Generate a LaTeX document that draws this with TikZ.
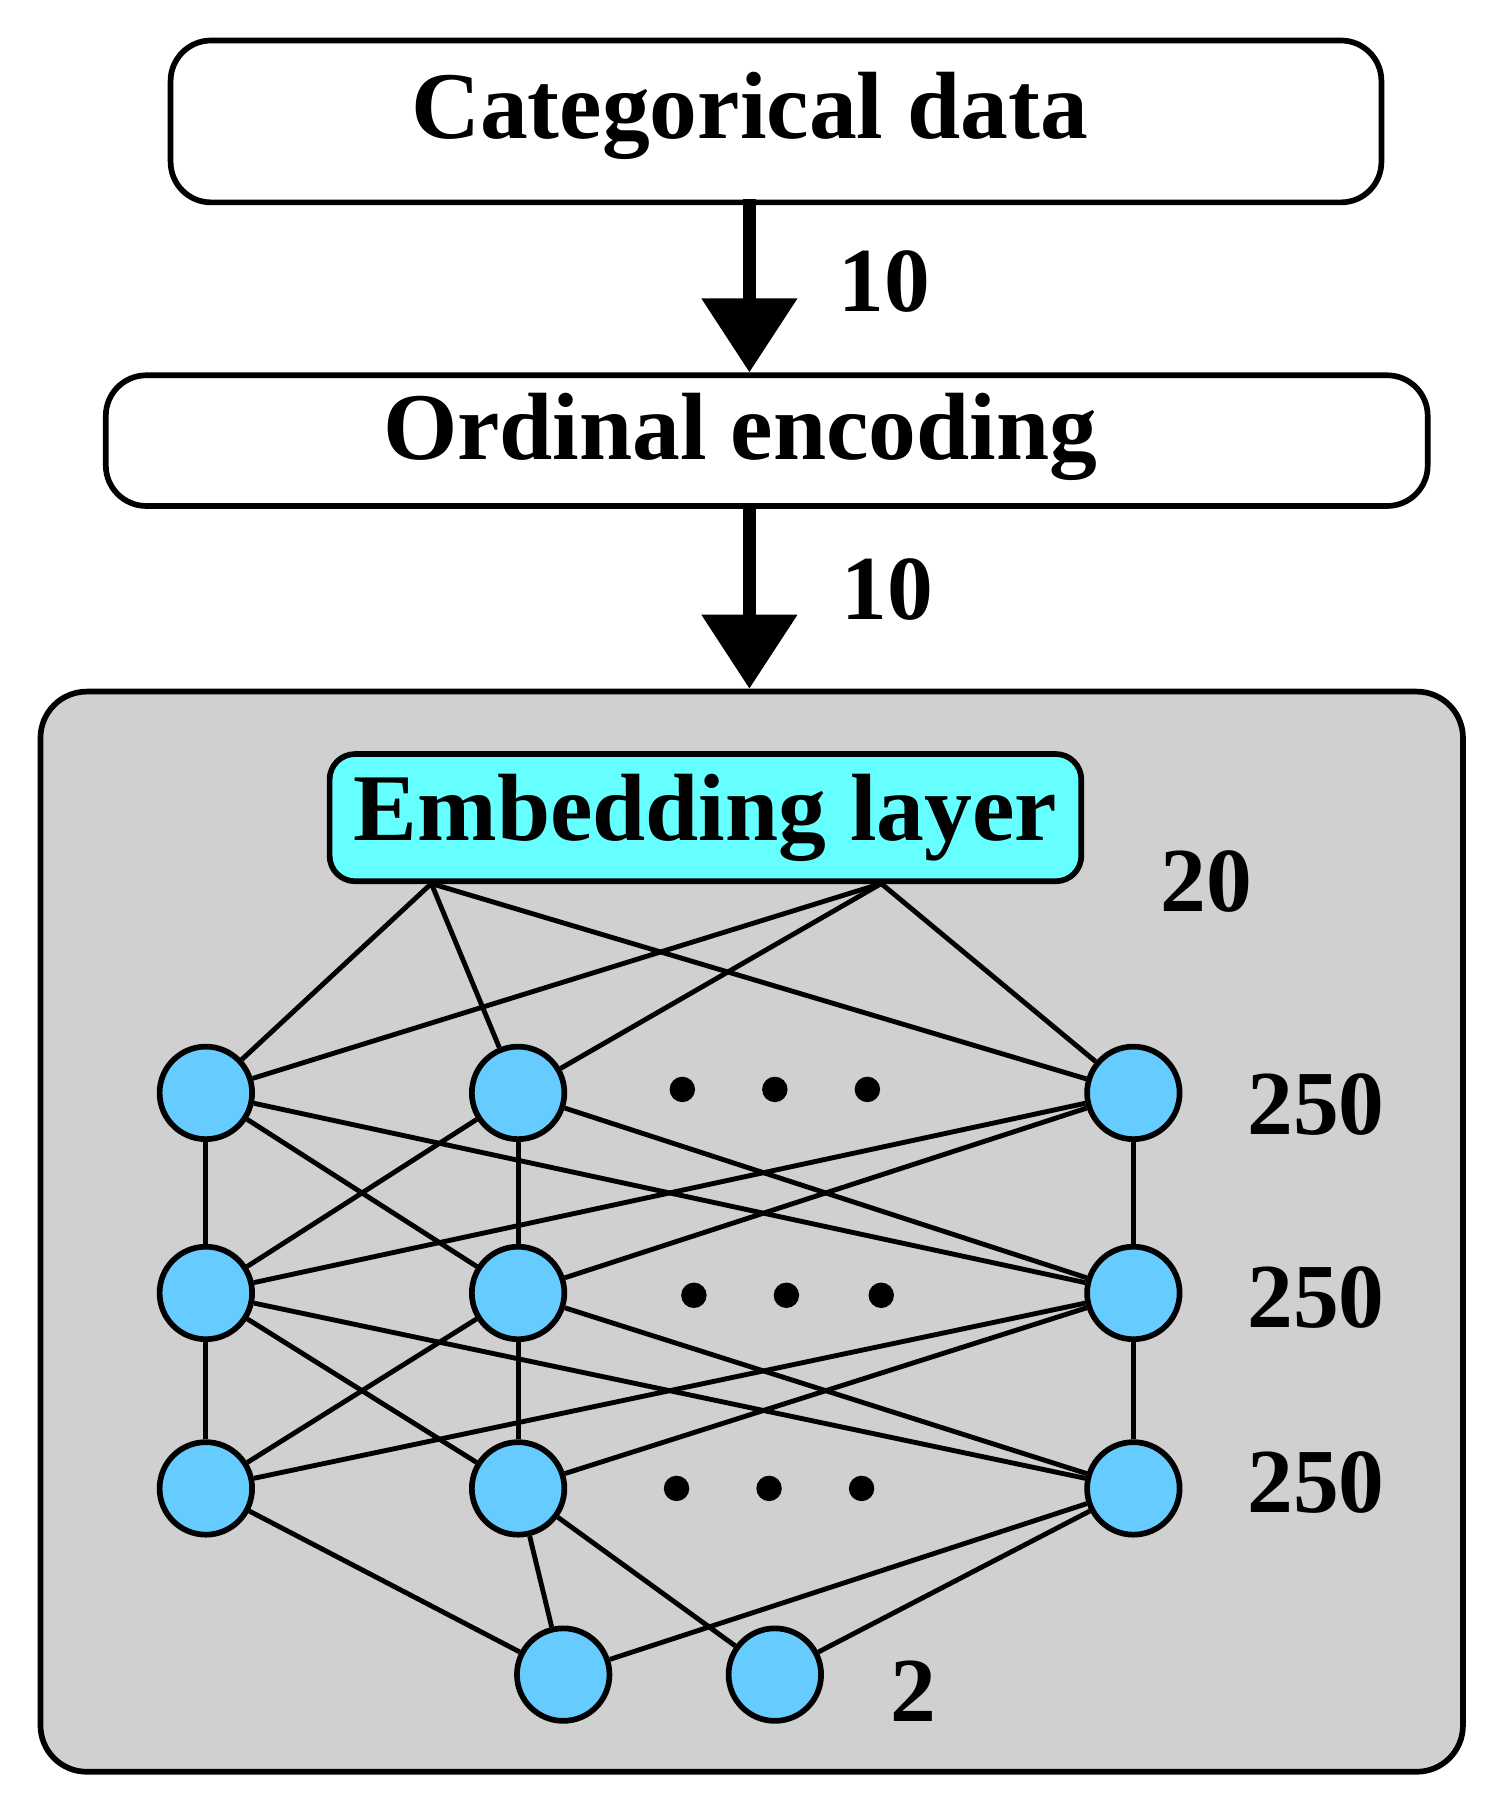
\documentclass[tikz,border=0pt]{standalone}
\usepackage{fontspec}
\setmainfont{Liberation Serif}
\usetikzlibrary{arrows.meta}
\begin{document}
\begin{tikzpicture}[x=0.01cm,y=-0.01cm,
  box/.style={draw,line width=1.4pt,rounded corners=0.35cm},
  lbl/.style={font=\bfseries\fontsize{23.5}{25}\selectfont},
  num/.style={font=\bfseries\fontsize{22.5}{24}\selectfont},
  big/.style={line width=3.3pt,-{Triangle[width=80*0.01cm,length=64*0.01cm]}},
  neu/.style={circle,draw,line width=1.4pt,fill=neuc,minimum size=80*0.01cm,inner sep=0pt},
  e/.style={line width=1.2pt},
  dot/.style={circle,fill=black,minimum size=22*0.01cm,inner sep=0pt}]
\definecolor{neuc}{HTML}{66CCFF}
\definecolor{cyanc}{HTML}{66FFFF}
\definecolor{grayc}{HTML}{D0D0D0}
\useasboundingbox (0,0) rectangle (1300,1572);
\node[box,minimum width=1047*0.01cm,minimum height=140*0.01cm] (cat) at (671,105) {};
\node[lbl] (catt) at (648,100) {Categorical data};
\node[box,minimum width=1143*0.01cm,minimum height=113*0.01cm] (ord) at (663,381) {};
\node[lbl] (ordt) at (640,378) {Ordinal encoding};
\node[draw,line width=1.4pt,rounded corners=0.4cm,fill=grayc,minimum width=1230*0.01cm,minimum height=934*0.01cm] (bg) at (650,1065) {};
\draw[big] (648,172) -- (ord.north -| 648,0);
\draw[big] (648,438) -- (bg.north -| 648,0);
\node[num] (n1) at (765,243) {10};
\node[num] (n2) at (767,510) {10};
\node[box,fill=cyanc,rounded corners=0.22cm,minimum width=650*0.01cm,minimum height=110*0.01cm,lbl] (emb) at (610,707) {Embedding layer};
\node[num] (l20) at (1043,762) {20};
\coordinate (ea) at (373,764);
\coordinate (eb) at (762,764);
\foreach \r/\y in {1/945,2/1118,3/1287}{
  \node[neu] (a\r) at (178,\y) {};
  \node[neu] (b\r) at (448,\y) {};
  \node[neu] (c\r) at (980,\y) {};
}
\node[neu] (o1) at (487,1448) {};
\node[neu] (o2) at (670,1448) {};
\foreach \s in {ea,eb}{\foreach \t in {a1,b1,c1}{\draw[e] (\s) -- (\t);}}
\foreach \r/\n in {1/2,2/3}{
  \foreach \s in {a,b,c}{\foreach \t in {a,b,c}{\draw[e] (\s\r) -- (\t\n);}}}
\draw[e] (a3) -- (o1); \draw[e] (b3) -- (o1); \draw[e] (b3) -- (o2);
\draw[e] (c3) -- (o1); \draw[e] (c3) -- (o2);
\foreach \x [count=\i] in {590,670,750}{\node[dot] (d1\i) at (\x,942) {};}
\foreach \x [count=\i] in {600,680,762}{\node[dot] (d2\i) at (\x,1120) {};}
\foreach \x [count=\i] in {585,665,745}{\node[dot] (d3\i) at (\x,1287) {};}
\node[num] (t1) at (1138,955) {250};
\node[num] (t2) at (1138,1122) {250};
\node[num] (t3) at (1138,1282) {250};
\node[num] (t4) at (790,1462) {2};
\end{tikzpicture}
\end{document}
